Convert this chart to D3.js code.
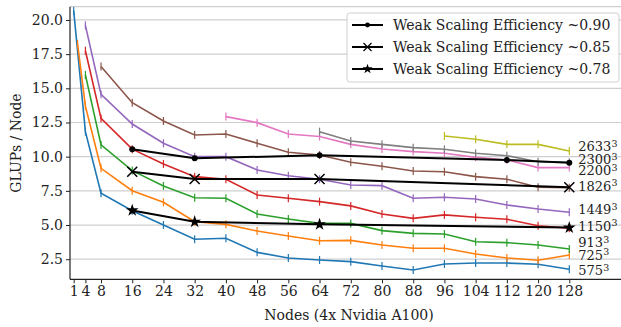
<!DOCTYPE html>
<html>
<head>
<meta charset="utf-8">
<script src="https://cdn.jsdelivr.net/npm/d3@7"></script>
<style>
  body { margin: 0; background: #fff; }
  svg { display: block; font-family: "DejaVu Serif", serif; }
  svg text { font-family: "DejaVu Serif", serif; }
</style>
</head>
<body>
<svg id="chart" width="621" height="327"></svg>
<script>
// x ticks and the grid sizes (one line per grid)
const xTicks = [1, 4, 8, 16, 24, 32, 40, 48, 56, 64, 72, 80, 88, 96, 104, 112, 120, 128];
const yTicks = [2.5, 5.0, 7.5, 10.0, 12.5, 15.0, 17.5, 20.0];
const gridNames = ["575", "725", "913", "1150", "1449", "1826", "2200", "2300", "2633"];
const colors = ["#1f77b4", "#ff7f0e", "#2ca02c", "#d62728", "#9467bd", "#8c564b", "#e377c2", "#7f7f7f", "#bcbd22"];

// nodes used by each grid
const nodes575 = [1, 4, 8, 16, 24, 32, 40, 48, 56, 64, 72, 80, 88, 96, 104, 112, 120, 128];
const nodes725 = [2, 4, 8, 16, 24, 32, 40, 48, 56, 64, 72, 80, 88, 96, 104, 112, 120, 128];
const nodes913 = [4, 8, 16, 24, 32, 40, 48, 56, 64, 72, 80, 88, 96, 104, 112, 120, 128];
const nodes1150 = [4, 8, 16, 24, 32, 40, 48, 56, 64, 72, 80, 88, 96, 104, 112, 120, 128];
const nodes1449 = [4, 8, 16, 24, 32, 40, 48, 56, 64, 72, 80, 88, 96, 104, 112, 120, 128];
const nodes1826 = [8, 16, 24, 32, 40, 48, 56, 64, 72, 80, 88, 96, 104, 112, 120, 128];
const nodes2200 = [40, 48, 56, 64, 72, 80, 88, 96, 104, 112, 120, 128];
const nodes2300 = [64, 72, 80, 88, 96, 104, 112, 120, 128];
const nodes2633 = [96, 104, 112, 120, 128];

// GLUPs per node
const glups575 = [20.66, 11.83, 7.32, 6.05, 5.0, 3.96, 4.03, 3.0, 2.59, 2.44, 2.32, 2.0, 1.71, 2.15, 2.22, 2.22, 2.13, 1.76];
const glups725 = [18.24, 13.7, 9.15, 7.51, 6.66, 5.24, 5.05, 4.56, 4.2, 3.85, 3.88, 3.54, 3.3, 3.3, 2.88, 2.59, 2.42, 2.81];
const glups913 = [15.98, 10.86, 8.98, 7.86, 7.0, 6.96, 5.81, 5.44, 5.12, 5.12, 4.59, 4.39, 4.34, 3.78, 3.71, 3.54, 3.25];
const glups1150 = [17.75, 12.8, 10.55, 9.47, 8.54, 8.35, 7.2, 6.96, 6.71, 6.4, 5.81, 5.49, 5.74, 5.57, 5.42, 4.95, 4.76];
const glups1449 = [19.6, 14.56, 12.39, 10.98, 10.0, 10.0, 9.03, 8.61, 8.35, 7.93, 7.88, 6.96, 7.03, 6.9, 6.47, 6.17, 5.93];
const glups1826 = [16.6, 13.95, 12.61, 11.59, 11.66, 10.98, 10.32, 10.12, 9.59, 9.3, 8.95, 8.9, 8.54, 8.35, 7.76, 7.73];
const glups2200 = [12.93, 12.49, 11.66, 11.47, 10.9, 10.56, 10.37, 10.25, 9.95, 9.76, 9.2, 9.2];
const glups2300 = [11.83, 11.15, 10.9, 10.66, 10.54, 10.25, 10.07, 9.63, 9.59];
const glups2633 = [11.51, 11.27, 10.9, 10.9, 10.42];

// where the grid-size label sits next to the last point (GLUPs units)
const labelAt = [1.66, 2.81, 3.71, 4.93, 6.15, 7.85, 8.97, 9.81, 10.73];

// weak scaling efficiency lines
const effNames = ["Weak Scaling Efficiency ~0.90", "Weak Scaling Efficiency ~0.85", "Weak Scaling Efficiency ~0.78"];
const effNodes90 = [16, 32, 64, 112, 128];
const effVals90 = [10.54, 9.88, 10.1, 9.76, 9.56];
const effNodes85 = [16, 32, 64, 128];
const effVals85 = [8.9, 8.37, 8.37, 7.76];
const effNodes78 = [16, 32, 64, 128];
const effVals78 = [6.07, 5.24, 5.05, 4.81];

const allNodes = [nodes575, nodes725, nodes913, nodes1150, nodes1449, nodes1826, nodes2200, nodes2300, nodes2633];
const allGlups = [glups575, glups725, glups913, glups1150, glups1449, glups1826, glups2200, glups2300, glups2633];

const series = gridNames.map((name, i) => ({
    name: name,
    color: colors[i],
    label: labelAt[i],
    points: allNodes[i].map((n, j) => ({ x: n, y: allGlups[i][j] }))
}));

const effSeries = [
    { name: effNames[0], marker: "dot", points: effNodes90.map((n, j) => ({ x: n, y: effVals90[j] })) },
    { name: effNames[1], marker: "cross", points: effNodes85.map((n, j) => ({ x: n, y: effVals85[j] })) },
    { name: effNames[2], marker: "star", points: effNodes78.map((n, j) => ({ x: n, y: effVals78[j] })) }
];

const svg = d3.select("#chart");
const margin = { left: 70, right: 628, top: 6.7, bottom: 279.3 };
const fontSize = 14;
const serif = "DejaVu Serif";

const x = d3.scaleLinear().domain([1, 128]).range([73.7, 569.3]);
const y = d3.scaleLinear().domain([1.03, 20.97]).range([margin.bottom, margin.top]);

// grid lines
svg.append("g")
    .selectAll("line")
    .data(yTicks)
    .join("line")
    .attr("x1", margin.left).attr("x2", margin.right)
    .attr("y1", d => y(d)).attr("y2", d => y(d))
    .attr("stroke", "#cfcfcf").attr("stroke-width", 1.2);

// top frame line (light)
svg.append("line")
    .attr("x1", margin.left).attr("x2", margin.right)
    .attr("y1", margin.top).attr("y2", margin.top)
    .attr("stroke", "#cfcfcf").attr("stroke-width", 1.2);

// axes
const xAxis = svg.append("g")
    .attr("transform", `translate(0,${margin.bottom})`)
    .call(d3.axisBottom(x).tickValues(xTicks).tickSize(4).tickPadding(3).tickFormat(d3.format("d")));
xAxis.select(".domain").attr("d", `M${margin.left},0H${margin.right}`);

const yAxis = svg.append("g")
    .attr("transform", `translate(${margin.left},0)`)
    .call(d3.axisLeft(y).tickValues(yTicks).tickSize(4).tickPadding(3).tickFormat(d3.format(".1f")));
yAxis.select(".domain").attr("d", `M0,${margin.top}V${margin.bottom}`);

svg.selectAll("g").attr("font-family", serif);
svg.selectAll(".tick text")
    .attr("font-size", fontSize)
    .attr("fill", "#222");
svg.selectAll(".domain").attr("stroke", "#222").attr("stroke-width", 1.2);
svg.selectAll(".tick line").attr("stroke", "#222");

// axis titles
svg.append("text")
    .attr("x", (margin.left + margin.right) / 2)
    .attr("y", 320)
    .attr("text-anchor", "middle")
    .attr("font-family", serif)
    .attr("font-size", fontSize)
    .attr("fill", "#222")
    .text("Nodes (4x Nvidia A100)");

svg.append("text")
    .attr("transform", `translate(21,${(margin.top + margin.bottom) / 2}) rotate(-90)`)
    .attr("text-anchor", "middle")
    .attr("font-family", serif)
    .attr("font-size", fontSize)
    .attr("fill", "#222")
    .text("GLUPs / Node");

const line = d3.line().x(d => x(d.x)).y(d => y(d.y));

// grid size series
const g = svg.append("g");
series.forEach(s => {
    g.append("path")
        .datum(s.points)
        .attr("d", line)
        .attr("fill", "none")
        .attr("stroke", s.color)
        .attr("stroke-width", 1.6);

    g.selectAll(null)
        .data(s.points)
        .join("line")
        .attr("x1", d => x(d.x)).attr("x2", d => x(d.x))
        .attr("y1", d => y(d.y) - 4).attr("y2", d => y(d.y) + 4)
        .attr("stroke", s.color)
        .attr("stroke-width", 1.2);

    // grid size label, e.g. 2633^3
    const last = s.points[s.points.length - 1];
    const t = g.append("text")
        .attr("x", x(last.x) + 9)
        .attr("y", y(s.label))
        .attr("dy", "0.35em")
        .attr("font-family", serif)
        .attr("font-size", 13)
        .attr("fill", "#222");
    t.append("tspan").text(s.name);
    t.append("tspan").attr("dy", "-0.45em").attr("font-size", 9.5).text("3");
});

// marker drawing for the black lines
const starPath = d3.symbol().type(d3.symbolStar).size(50)();
function drawMarker(sel, type) {
    if (type === "dot") {
        sel.append("circle").attr("r", 3).attr("fill", "#000");
    } else if (type === "cross") {
        sel.append("path").attr("d", "M-5,-5L5,5M-5,5L5,-5")
            .attr("stroke", "#000").attr("stroke-width", 1.5).attr("fill", "none");
    } else {
        sel.append("path").attr("d", starPath).attr("fill", "#000");
    }
}

// efficiency lines
effSeries.forEach(s => {
    svg.append("path")
        .datum(s.points)
        .attr("d", line)
        .attr("fill", "none")
        .attr("stroke", "#000")
        .attr("stroke-width", 2);

    s.points.forEach(p => {
        const m = svg.append("g").attr("transform", `translate(${x(p.x)},${y(p.y)})`);
        drawMarker(m, s.marker);
    });
});

// legend
const legend = svg.append("g");
legend.append("rect")
    .attr("x", 347).attr("y", 13)
    .attr("width", 272).attr("height", 69)
    .attr("rx", 3)
    .attr("fill", "#fff").attr("fill-opacity", 0.85)
    .attr("stroke", "#d0d0d0");

effSeries.forEach((s, i) => {
    const cy = 25 + i * 22;
    legend.append("line")
        .attr("x1", 352).attr("x2", 383)
        .attr("y1", cy).attr("y2", cy)
        .attr("stroke", "#000").attr("stroke-width", 2);
    const m = legend.append("g").attr("transform", `translate(367.5,${cy}) scale(0.8)`);
    drawMarker(m, s.marker);
    legend.append("text")
        .attr("x", 393).attr("y", cy)
        .attr("dy", "0.35em")
        .attr("font-family", serif)
        .attr("font-size", fontSize)
        .attr("fill", "#222")
        .text(s.name);
});
</script>
</body>
</html>
